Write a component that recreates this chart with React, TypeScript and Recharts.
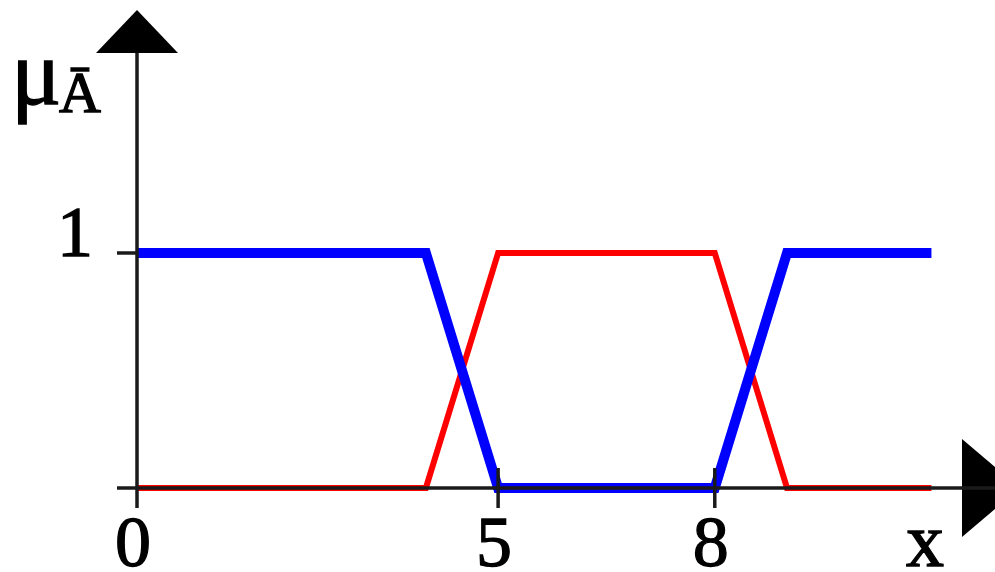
import React from 'react';
import { LineChart, Line, XAxis, YAxis, Customized } from 'recharts';

// membership functions
const xPoints = [0, 4, 5, 8, 9, 11];
const muNotA = [1, 1, 0, 0, 1, 1];
const muA = [0, 0, 1, 1, 0, 0];
const xTicks = [0, 5, 8];
const yTicks = [0, 1];

const chartData = xPoints.map((x, i) => ({ x, blue: muNotA[i], red: muA[i] }));

const W = 995;
const H = 572;
const AXIS_X = 137;
const AXIS_Y = 488;
const TOP = 53;
const FONT = '"Liberation Serif", "DejaVu Serif", serif';
const INK = '#1a1a1a';
// the reference glyphs look a little heavier than plain regular weight
const textStyle = { fontFamily: FONT, fill: '#000', stroke: '#000', strokeWidth: 1.3 };

const XTick = (props: any) => {
  const { x, y, payload } = props;
  const v = payload.value;
  return (
    <g>
      <line x1={x} x2={x} y1={v === 0 ? y : y - 20} y2={y + 20} stroke={INK} strokeWidth={3.5} />
      <text x={x - 4} y={y + 78} textAnchor="middle" fontSize={72} {...textStyle}>
        {v}
      </text>
    </g>
  );
};

const YTick = (props: any) => {
  const { x, y, payload } = props;
  return (
    <g>
      <line x1={x - 20} x2={x} y1={y} y2={y} stroke={INK} strokeWidth={3.5} />
      {payload.value === 1 && (
        <text x={x - 44} y={y + 3} textAnchor="end" fontSize={72} {...textStyle}>
          1
        </text>
      )}
    </g>
  );
};

// arrow heads and axis names
const Decorations = () => (
  <g>
    <polygon points={`${AXIS_X},10 ${AXIS_X - 41},${TOP} ${AXIS_X + 41},${TOP}`} fill="#000" />
    <polygon points={`962,439 962,537 1020,${AXIS_Y}`} fill="#000" />
    <text x={11} y={104} fontSize={94} {...textStyle}>μ</text>
    <text x={59} y={112} fontSize={58} {...textStyle}>Ā</text>
    <text x={925} y={566} textAnchor="middle" fontSize={76} {...textStyle}>x</text>
  </g>
);

export default function App() {
  return (
    <div style={{ position: 'fixed', left: 0, top: 0, width: W, height: H, background: '#fff' }}>
      <LineChart width={W} height={H} data={chartData} margin={{ top: TOP, right: 0, bottom: 0, left: 0 }}>
        <XAxis
          dataKey="x"
          type="number"
          domain={[0, 11.88]}
          ticks={xTicks}
          height={H - AXIS_Y}
          tickSize={0}
          tickMargin={0}
          tickLine={false}
          axisLine={{ stroke: INK, strokeWidth: 3.5 }}
          tick={<XTick />}
          interval={0}
        />
        <YAxis
          type="number"
          domain={[0, 1.851]}
          ticks={yTicks}
          width={AXIS_X}
          tickSize={0}
          tickMargin={0}
          tickLine={false}
          axisLine={{ stroke: INK, strokeWidth: 3.5 }}
          tick={<YTick />}
          interval={0}
        />
        <Line
          dataKey="red"
          stroke="#ff0000"
          strokeWidth={6}
          dot={false}
          activeDot={false}
          type="linear"
          strokeLinejoin="miter"
          isAnimationActive={false}
        />
        <Line
          dataKey="blue"
          stroke="#0000ff"
          strokeWidth={10}
          dot={false}
          activeDot={false}
          type="linear"
          strokeLinejoin="miter"
          isAnimationActive={false}
        />
        <Customized component={Decorations} />
      </LineChart>
    </div>
  );
}
